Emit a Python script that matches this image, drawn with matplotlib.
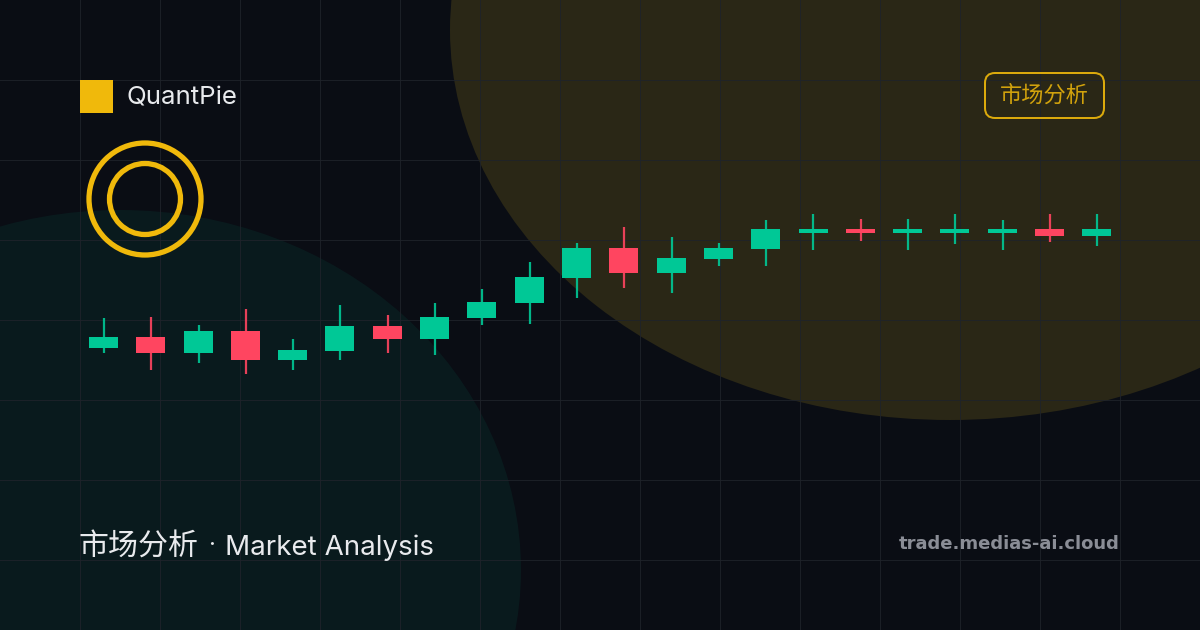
import matplotlib
matplotlib.use("Agg")
import matplotlib.pyplot as plt
from matplotlib.patches import Ellipse, Circle, Rectangle, FancyBboxPatch
import numpy as np

# candles, price = height above the bottom edge of the card
opens = [282, 277, 277, 270, 270, 279, 291, 291, 312, 327, 352, 357, 357, 371, 381, 397, 397, 397, 397, 397, 394, 394]
closes = [293, 293, 299, 299, 280, 304, 304, 313, 328, 353, 382, 382, 372, 382, 401, 401, 401, 401, 401, 401, 401, 401]
highs = [312, 313, 305, 321, 291, 325, 315, 327, 341, 368, 387, 403, 393, 387, 410, 416, 411, 411, 416, 410, 416, 416]
lows = [277, 260, 267, 256, 260, 270, 277, 275, 305, 306, 332, 342, 337, 364, 364, 380, 389, 380, 386, 380, 388, 384]
red_days = [1, 3, 6, 11, 16, 20]

BG = "#0a0d14"
GRID = "#1f232a"
GOLD = "#f0b90b"
GREEN = "#00c896"
RED = "#ff4560"

plt.rcParams["font.family"] = ["Inter", "Noto Sans CJK SC", "DejaVu Sans"]

fig = plt.figure(figsize=(12, 6.3), dpi=100, facecolor=BG)

# card layer in pixels
ax = fig.add_axes([0, 0, 1, 1], facecolor=BG)
ax.set_xlim(0, 1200)
ax.set_ylim(630, 0)
ax.set_xticks(np.arange(80, 1200, 80))
ax.set_yticks(np.arange(80, 630, 80))
ax.grid(True, color=GRID, linewidth=0.72, alpha=0.85)
ax.set_axisbelow(False)
ax.tick_params(length=0, labelbottom=False, labelleft=False)
for s in ax.spines.values():
    s.set_visible(False)

ax.add_patch(Ellipse((950, 30), 1000, 780, fc="#2a2716", ec="none", zorder=1))
ax.add_patch(Ellipse((120, 570), 802, 720, fc=GREEN, alpha=0.07, ec="none", zorder=1))

ax.add_patch(Rectangle((80, 80), 33, 33, fc=GOLD, ec="none", zorder=3))
ax.add_patch(Circle((145, 199), 56, fc="none", ec=GOLD, lw=3.8, zorder=3))
ax.add_patch(Circle((145, 199), 35.5, fc="none", ec=GOLD, lw=3.8, zorder=3))

ax.add_patch(FancyBboxPatch((995, 83), 99, 25, boxstyle="round,pad=10,rounding_size=10",
                            fc="none", ec=GOLD, lw=1.44, alpha=0.9, zorder=3))

ax.text(126, 96, "QuantPie", color="#e8eaed", fontsize=18.6, va="center_baseline", zorder=4)
ax.text(1044, 95, "市场分析", color=GOLD, alpha=0.85, fontsize=16, ha="center", va="center", zorder=4)
ax.text(79, 548, "市场分析", color="#e8eaed", fontsize=21.6, va="center", zorder=4)
ax.text(212, 546, "·", color="#e8eaed", fontsize=17, ha="center", va="center", zorder=4)
ax.text(225, 545, "Market Analysis", color="#e8eaed", fontsize=20, va="center_baseline", zorder=4)
ax.text(1120, 544, "trade.medias-ai.cloud", color="#8a8d96", fontsize=13, fontweight="bold",
        family="DejaVu Sans", ha="right", va="center", zorder=4)

# candle layer, same rectangle, x in day numbers
ax2 = fig.add_axes([0, 0, 1, 1], facecolor="none")
ax2.set_xlim(-103.5 / 47.3, (1200 - 103.5) / 47.3)
ax2.set_ylim(0, 630)
ax2.axis("off")

days = np.arange(len(opens))
opens = np.array(opens)
closes = np.array(closes)
colors = [RED if d in red_days else GREEN for d in days]
ax2.vlines(days + 0.01, lows, highs, colors=colors, linewidth=1.6, alpha=0.9, zorder=2)
ax2.bar(days, closes - opens, bottom=opens, width=29 / 47.3, color=colors, zorder=3)

fig.savefig("out.png", dpi=100, facecolor=BG)
